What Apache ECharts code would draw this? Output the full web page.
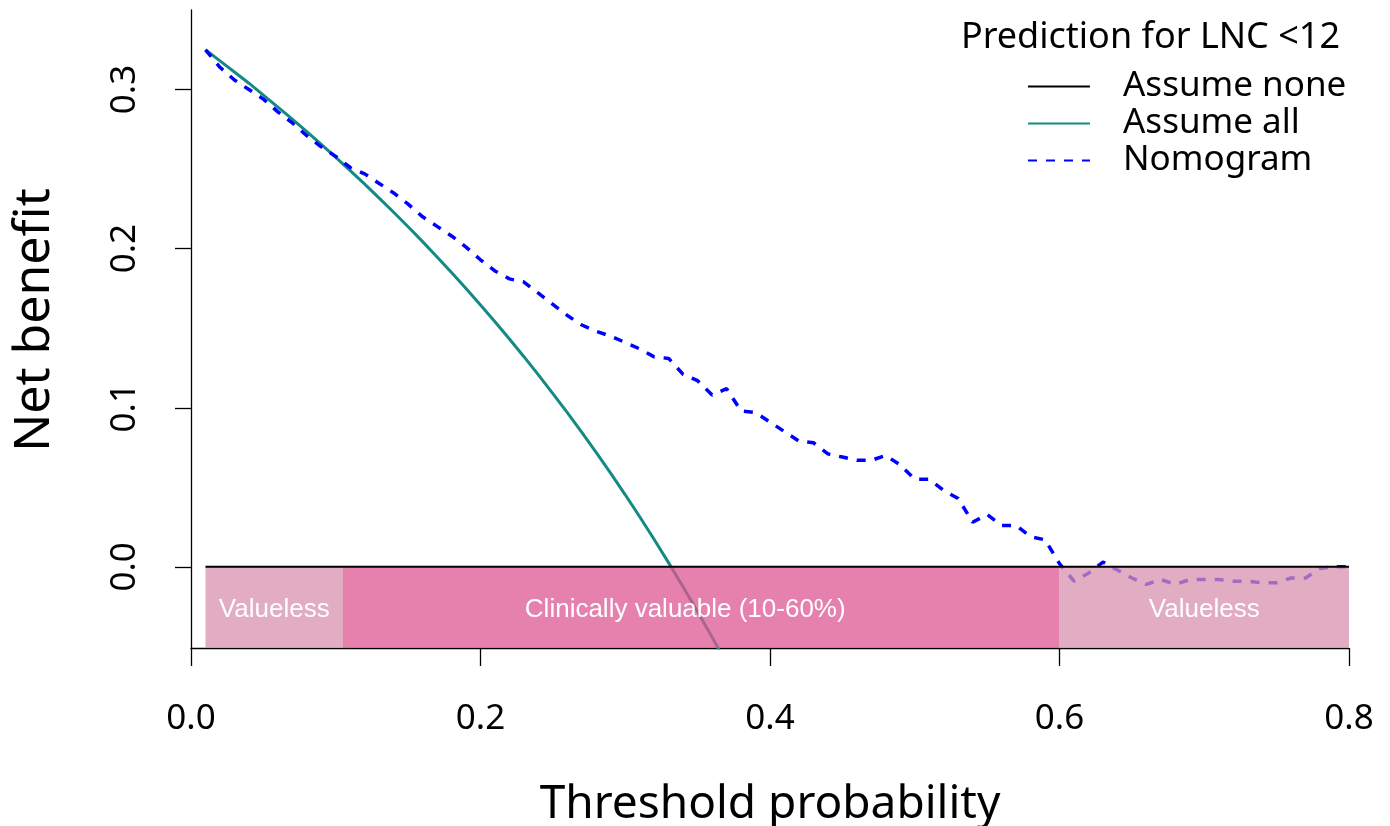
<!DOCTYPE html>
<html>
<head>
<meta charset="utf-8">
<script src="https://cdn.jsdelivr.net/npm/echarts@6/dist/echarts.min.js"></script>
<style>html,body{margin:0;padding:0;background:#fff}#c{width:1390px;height:826px}</style>
</head>
<body>
<div id="c"></div>
<script>
// threshold probabilities (x)
const thresholds = [0.01,0.02,0.03,0.04,0.05,0.06,0.07,0.08,0.09,0.10,
  0.11,0.12,0.13,0.14,0.15,0.16,0.17,0.18,0.19,0.20,
  0.21,0.22,0.23,0.24,0.25,0.26,0.27,0.28,0.29,0.30,
  0.31,0.32,0.33,0.34,0.35,0.36,0.37,0.38,0.39,0.40,
  0.41,0.42,0.43,0.44,0.45,0.46,0.47,0.48,0.49,0.50,
  0.51,0.52,0.53,0.54,0.55,0.56,0.57,0.58,0.59,0.60,
  0.61,0.62,0.63,0.64,0.65,0.66,0.67,0.68,0.69,0.70,
  0.71,0.72,0.73,0.74,0.75,0.76,0.77,0.78,0.79,0.80];
// Assume all (first 37 thresholds, clipped below the axis)
const assumeAll = [0.325,0.318,0.311,0.304,0.2965,0.289,0.2814,0.2736,0.2656,0.2574,
  0.2491,0.2406,0.2318,0.2229,0.2138,0.2044,0.1948,0.185,0.1749,0.1646,
  0.1541,0.1432,0.1321,0.1207,0.1089,0.0969,0.0845,0.0718,0.0587,0.0453,
  0.0315,0.0172,0.0025,-0.0126,-0.0282,-0.0442,-0.0608];
// Nomogram
const nomogram = [0.325,0.314,0.306,0.300,0.294,0.286,0.279,0.271,0.264,0.258,
  0.251,0.247,0.241,0.235,0.228,0.220,0.214,0.208,0.201,0.193,
  0.186,0.181,0.179,0.172,0.165,0.158,0.152,0.148,0.145,0.141,
  0.137,0.132,0.131,0.121,0.117,0.108,0.112,0.098,0.097,0.091,
  0.085,0.079,0.078,0.071,0.069,0.067,0.067,0.070,0.064,0.055,
  0.055,0.048,0.043,0.028,0.033,0.026,0.026,0.019,0.017,0.002,
  -0.009,-0.004,0.003,-0.002,-0.007,-0.011,-0.008,-0.011,-0.008,-0.008,
  -0.008,-0.009,-0.009,-0.010,-0.010,-0.007,-0.007,-0.001,0.000,0.000];
// Assume none
const assumeNone = thresholds.map(() => 0);
const xTicks = [0, 0.2, 0.4, 0.6, 0.8];
const yTicks = [0, 0.1, 0.2, 0.3];
// shaded regions: [from, to, label, kind]
const regions = [
  [0.01, 0.105, 'Valueless', 'v'],
  [0.105, 0.6, 'Clinically valuable (10-60%)', 'c'],
  [0.6, 0.8, 'Valueless', 'v']
];

const FONT = '"Noto Sans", "Open Sans", sans-serif';
const YMIN = -0.051, YMAX = 0.35;
const pair = (xs, ys) => ys.map((v, i) => [xs[i], v]);

const chart = echarts.init(document.getElementById('c'), null, {renderer: 'canvas'});
chart.setOption({
  animation: false,
  backgroundColor: '#ffffff',
  grid: {left: 191, right: 41, top: 10, bottom: 178, containLabel: false, outerBoundsMode: 'none'},
  xAxis: {
    type: 'value', min: 0, max: 0.8, interval: 0.2,
    name: 'Threshold probability', nameLocation: 'middle', nameGap: 134,
    nameTextStyle: {fontSize: 46, color: '#000', fontFamily: FONT},
    axisLine: {onZero: false, lineStyle: {color: '#000', width: 1.3}},
    axisTick: {show: true, length: 18, lineStyle: {color: '#000', width: 1.3}},
    axisLabel: {margin: 54, fontSize: 35, color: '#000', fontFamily: FONT,
      customValues: xTicks, formatter: v => v.toFixed(1)},
    splitLine: {show: false}
  },
  yAxis: {
    type: 'value', min: YMIN, max: YMAX,
    name: 'Net benefit', nameLocation: 'middle', nameGap: 131, nameRotate: 90,
    nameTextStyle: {fontSize: 50, color: '#000', fontFamily: FONT, padding: [0, 0, 0, 18]},
    axisLine: {show: true, onZero: false, lineStyle: {color: '#000', width: 1.3}},
    axisTick: {show: true, length: 16, customValues: yTicks, lineStyle: {color: '#000', width: 1.3}},
    axisLabel: {margin: 48, fontSize: 35, color: '#000', fontFamily: FONT, rotate: 90,
      customValues: yTicks, formatter: v => v.toFixed(1)},
    splitLine: {show: false}
  },
  legend: {
    orient: 'vertical', left: 1022, top: 63, itemWidth: 62, itemHeight: 14, itemGap: 0,
    itemStyle: {opacity: 0},
    textStyle: {fontSize: 35, lineHeight: 37, color: '#000', fontFamily: FONT, padding: [0, 0, 0, 28]},
    data: ['Assume none', 'Assume all', 'Nomogram']
  },
  graphic: [{
    type: 'text', right: 50, top: 20,
    style: {text: 'Prediction for LNC <12', fontSize: 36, fill: '#000', fontFamily: FONT}
  }],
  series: [
    {
      name: 'Assume all', type: 'line', z: 2, symbol: 'none', clip: true,
      data: pair(thresholds, assumeAll),
      lineStyle: {color: '#138A84', width: 3}, itemStyle: {color: '#138A84'}
    },
    {
      name: 'Nomogram', type: 'line', z: 3, symbol: 'none', clip: true,
      data: pair(thresholds, nomogram),
      lineStyle: {color: '#0000FF', width: 3.5, type: [9, 9]}, itemStyle: {color: '#0000FF'}
    },
    {
      name: 'regions', type: 'line', z: 5, symbol: 'none', data: [],
      markArea: {
        silent: true, z: 5,
        data: regions.map(r => [
          {xAxis: r[0], yAxis: 0,
           itemStyle: {color: r[3] === 'v' ? 'rgba(216,144,174,0.75)' : 'rgba(222,87,147,0.75)'},
           label: {show: true, position: 'inside', formatter: r[2], color: '#fff', fontSize: 26,
             offset: r[3] === 'c' ? [-16, 2] : [0, 2],
             fontFamily: '"Liberation Sans", Arial, sans-serif'}},
          {xAxis: r[1], yAxis: YMIN}
        ])
      }
    },
    {
      name: 'Assume none', type: 'line', z: 8, symbol: 'none',
      data: pair(thresholds, assumeNone),
      lineStyle: {color: '#000', width: 2}, itemStyle: {color: '#000'}
    }
  ]
});
</script>
</body>
</html>
